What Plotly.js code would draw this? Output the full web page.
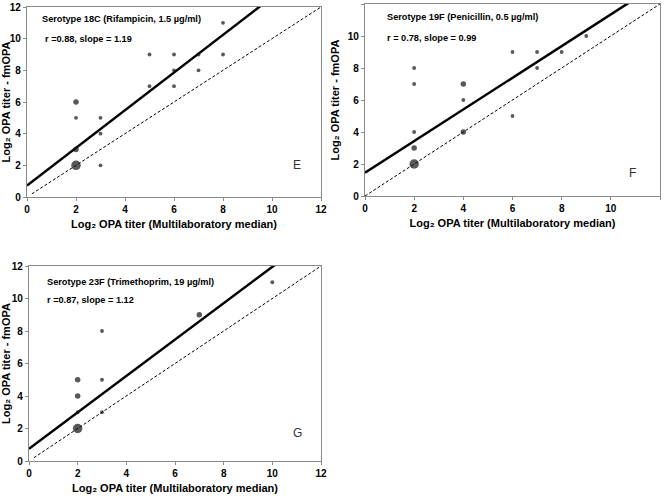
<!DOCTYPE html>
<html>
<head>
<meta charset="utf-8">
<script src="https://cdn.plot.ly/plotly-3.0.1.min.js"></script>
<style>html,body{margin:0;padding:0;background:#fff}#chart{width:664px;height:496px}</style>
</head>
<body>
<div id="chart"></div>
<script>
// ---- Data ----
// Panel E: Serotype 18C
const eX = [2, 2, 2, 2, 3, 3, 3, 5, 5, 6, 6, 6, 7, 7, 8, 8];
const eY = [6, 5, 3, 2, 5, 4, 2, 9, 7, 9, 8, 7, 9, 8, 11, 9];
const eN = [2, 1, 2, 6, 1, 1, 1, 1, 1, 1, 1, 1, 1, 1, 1, 1];
const eFit = {intercept: 0.72, slope: 1.19};
const eTitle = "Serotype 18C (Rifampicin, 1.5 µg/ml)";
const eStat = "r =0.88, slope = 1.19";
const eLabel = "E";

// Panel F: Serotype 19F
const fX = [2, 2, 2, 2, 2, 4, 4, 4, 6, 6, 7, 7, 8, 9];
const fY = [8, 7, 4, 3, 2, 7, 6, 4, 9, 5, 9, 8, 9, 10];
const fN = [1, 1, 1, 2, 5, 2, 1, 2, 1, 1, 1, 1, 1, 1];
const fFit = {intercept: 1.45, slope: 0.99};
const fTitle = "Serotype 19F (Penicillin, 0.5 µg/ml)";
const fStat = "r = 0.78, slope = 0.99";
const fLabel = "F";

// Panel G: Serotype 23F
const gX = [2, 2, 2, 2, 3, 3, 3, 7, 10];
const gY = [5, 4, 3, 2, 8, 5, 3, 9, 11];
const gN = [2, 2, 1, 6, 1, 1, 1, 2, 1];
const gFit = {intercept: 0.75, slope: 1.12};
const gTitle = "Serotype 23F (Trimethoprim, 19 µg/ml)";
const gStat = "r =0.87, slope = 1.12";
const gLabel = "G";

const tickVals = [0, 2, 4, 6, 8, 10, 12];
const xTitle = "Log₂ OPA titer (Multilaboratory median)";
const yTitle = "Log₂ OPA titer - fmOPA";

// ---- Build ----
const W = 664, H = 496;
const boxes = [
  {xs: 27, xe: 321, ys: 7, ye: 197},
  {xs: 365, xe: 660, ys: 4, ye: 196},
  {xs: 29, xe: 321, ys: 266, ye: 461}
];
const panels = [
  {x: eX, y: eY, n: eN, fit: eFit, title: eTitle, stat: eStat, label: eLabel, lab: [11.0, 2.0], tp: [0.55, 11.25], sp: [0.65, 10.0]},
  {x: fX, y: fY, n: fN, fit: fFit, title: fTitle, stat: fStat, label: fLabel, lab: [10.9, 1.45], tp: [0.8, 11.2], sp: [0.8, 9.9]},
  {x: gX, y: gY, n: gN, fit: gFit, title: gTitle, stat: gStat, label: gLabel, lab: [11.05, 1.72], tp: [0.66, 11.0], sp: [0.66, 9.9]}
];
const sizeOf = n => n >= 5 ? 9.5 : (n >= 2 ? 5.5 : 3.8);
const fontMain = "Liberation Sans, Arial, sans-serif";

const traces = [];
const layout = {
  width: W, height: H,
  margin: {l: 0, r: 0, t: 0, b: 0},
  paper_bgcolor: "#fff", plot_bgcolor: "#fff",
  showlegend: false,
  annotations: []
};
panels.forEach((p, i) => {
  const b = boxes[i];
  const sfx = i === 0 ? "" : String(i + 1);
  const xa = "x" + sfx, ya = "y" + sfx;
  const fitX = [0, 12];
  traces.push({
    x: [i === 1 ? 0 : 0.2, 12], y: [i === 1 ? 0 : 0.2, 12], xaxis: xa, yaxis: ya, mode: "lines",
    line: {color: "#000", width: 1, dash: "3px,2px"}, hoverinfo: "skip"
  });
  traces.push({
    x: fitX, y: fitX.map(v => p.fit.intercept + p.fit.slope * v), xaxis: xa, yaxis: ya, mode: "lines",
    line: {color: "#000", width: 2.5}, hoverinfo: "skip"
  });
  traces.push({
    x: p.x, y: p.y, xaxis: xa, yaxis: ya, mode: "markers", cliponaxis: false,
    marker: {color: "#111", size: p.n.map(sizeOf), line: {width: 0}}
  });
  const axCommon = {
    range: [0, 12], tickvals: tickVals, ticktext: tickVals.map(String),
    showgrid: false, zeroline: false, showline: true, linecolor: "#8a8a8a", linewidth: 1.2,
    mirror: true, ticks: "outside", ticklen: 3, tickcolor: "#8a8a8a",
    tickfont: {family: fontMain, size: 10, color: "#000", weight: "bold"},
    fixedrange: true
  };
  layout["xaxis" + sfx] = Object.assign({}, axCommon, {
    domain: [b.xs / W, b.xe / W], anchor: ya,
    title: {text: xTitle, font: {family: fontMain, size: 11, color: "#000", weight: "bold"}, standoff: 6}
  });
  layout["yaxis" + sfx] = Object.assign({}, axCommon, {
    domain: [(H - b.ye) / H, (H - b.ys) / H], anchor: xa,
    title: {text: yTitle, font: {family: fontMain, size: 11, color: "#000", weight: "bold"}, standoff: 5}
  });
  layout.annotations.push({
    xref: xa, yref: ya, x: p.tp[0], y: p.tp[1], text: p.title, showarrow: false,
    xanchor: "left", yanchor: "middle",
    font: {family: fontMain, size: 9.2, color: "#000", weight: "bold"}
  });
  layout.annotations.push({
    xref: xa, yref: ya, x: p.sp[0], y: p.sp[1], text: p.stat, showarrow: false,
    xanchor: "left", yanchor: "middle",
    font: {family: fontMain, size: 9.2, color: "#000", weight: "bold"}
  });
  layout.annotations.push({
    xref: xa, yref: ya, x: p.lab[0], y: p.lab[1], text: p.label, showarrow: false,
    xanchor: "center", yanchor: "middle",
    font: {family: fontMain, size: 12, color: "#333"}
  });
});
Plotly.newPlot("chart", traces, layout, {staticPlot: true});
</script>
</body>
</html>
